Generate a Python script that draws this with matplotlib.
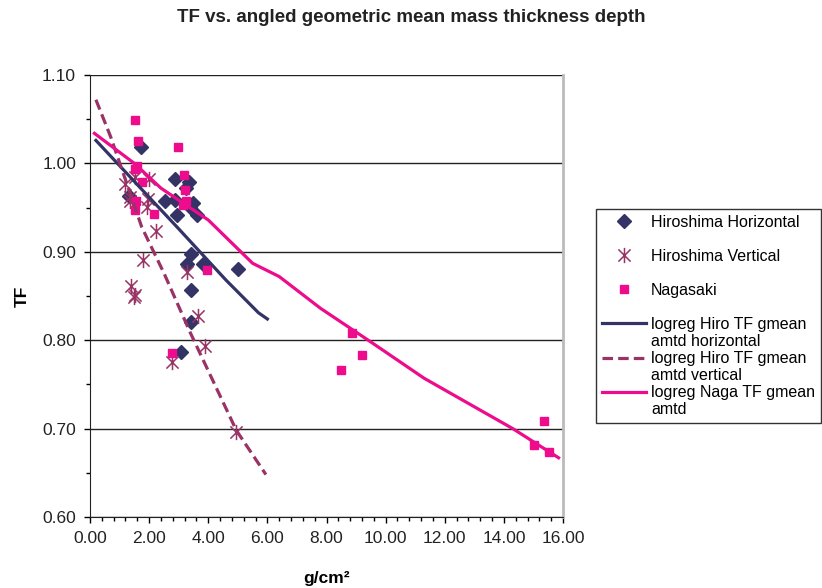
import matplotlib
matplotlib.use("Agg")
import matplotlib.pyplot as plt
from matplotlib.lines import Line2D
from matplotlib.path import Path
from matplotlib.ticker import MultipleLocator, FormatStrFormatter

plt.rcParams['font.family'] = ['Liberation Sans', 'DejaVu Sans']

# puntos
hiroHorizX = [1.71, 2.86, 3.34, 3.25, 1.33, 2.54, 2.86, 3.50, 3.38, 2.93, 3.61, 3.41, 3.27, 3.81, 5.01, 3.43, 3.43, 3.07]
hiroHorizY = [1.019, 0.982, 0.979, 0.972, 0.963, 0.957, 0.959, 0.955, 0.951, 0.942, 0.942, 0.898, 0.886, 0.886, 0.881,
              0.857, 0.821, 0.787]

hiroVertX = [1.18, 1.52, 2.00, 1.35, 1.35, 1.97, 1.92, 2.23, 1.80, 3.27, 1.38, 1.52, 1.50, 3.66, 3.89, 2.78, 4.93]
hiroVertY = [0.977, 0.985, 0.982, 0.962, 0.957, 0.960, 0.951, 0.924, 0.891, 0.877, 0.861, 0.851, 0.849, 0.827, 0.793,
             0.775, 0.696]

nagaX = [1.53, 1.61, 2.99, 1.52, 1.60, 3.18, 1.77, 3.22, 3.25, 3.16, 1.56, 1.52, 2.17, 3.95, 2.76, 8.87, 9.19, 8.48,
         15.37, 15.03, 15.54]
nagaY = [1.049, 1.025, 1.019, 0.994, 0.997, 0.987, 0.979, 0.970, 0.958, 0.953, 0.957, 0.947, 0.943, 0.879, 0.786,
         0.808, 0.783, 0.766, 0.709, 0.681, 0.673]

# curvas de regresion
regHiroHorizX = [0.2, 3.0, 4.6, 5.7, 6.0]
regHiroHorizY = [1.026, 0.926, 0.868, 0.831, 0.824]
regHiroVertX = [0.2, 0.7, 1.75, 2.5, 3.4, 4.95, 5.95]
regHiroVertY = [1.072, 1.030, 0.928, 0.876, 0.808, 0.698, 0.648]
regNagaX = [0.15, 1.5, 2.4, 4.0, 5.5, 6.4, 7.8, 9.5, 11.3, 14.3, 15.85]
regNagaY = [1.034, 1.000, 0.972, 0.936, 0.887, 0.872, 0.836, 0.798, 0.757, 0.700, 0.667]

NAVY = '#333366'
PLUM = '#993366'
PINK = '#EC0C8C'

asterisco = Path([(0, -1), (0, 1), (-0.8, -0.8), (0.8, 0.8), (-0.8, 0.8), (0.8, -0.8)],
                 [Path.MOVETO, Path.LINETO, Path.MOVETO, Path.LINETO, Path.MOVETO, Path.LINETO])

fig = plt.figure(figsize=(8.22, 5.88), dpi=100)
ax = fig.add_axes([90 / 822, 1 - 517 / 588, (563 - 90) / 822, (517 - 75) / 588])

hh, = ax.plot(hiroHorizX, hiroHorizY, linestyle='none', marker='D', markersize=7, color=NAVY)
hv, = ax.plot(hiroVertX, hiroVertY, linestyle='none', marker=asterisco, markersize=11, markeredgewidth=1.1,
              color=PLUM, fillstyle='none')
ng, = ax.plot(nagaX, nagaY, linestyle='none', marker='s', markersize=5.5, color=PINK)
l1, = ax.plot(regHiroHorizX, regHiroHorizY, color=NAVY, linewidth=2.3)
l2, = ax.plot(regHiroVertX, regHiroVertY, color=PLUM, linewidth=2.3, linestyle=(0, (3.3, 1.6)))
l3, = ax.plot(regNagaX, regNagaY, color=PINK, linewidth=2.3)

ax.set_xlim(0, 16)
ax.set_ylim(0.6, 1.1)
ax.xaxis.set_major_locator(MultipleLocator(2))
ax.xaxis.set_minor_locator(MultipleLocator(0.4))
ax.yaxis.set_major_locator(MultipleLocator(0.1))
ax.yaxis.set_minor_locator(MultipleLocator(0.05))
ax.xaxis.set_major_formatter(FormatStrFormatter('%.2f'))
ax.yaxis.set_major_formatter(FormatStrFormatter('%.2f'))
ax.tick_params(which='major', direction='out', length=4, width=1, labelsize=12.5, pad=6, colors='black')
ax.tick_params(which='minor', direction='out', length=3, width=1)
ax.tick_params(axis='x', labelcolor='#222222')
ax.tick_params(axis='y', labelcolor='#222222')

ax.yaxis.grid(True, color='#222222', linewidth=1)
gl = ax.get_ygridlines()
gl[0].set_visible(False)
gl[-1].set_visible(False)
ax.set_axisbelow(True)

ax.spines['top'].set_visible(False)
ax.spines['right'].set_color('#BBBBBB')
ax.spines['right'].set_linewidth(2)
ax.spines['left'].set_color('#222222')
ax.spines['bottom'].set_color('#222222')

ax.set_ylabel('TF', fontsize=12.5, fontweight='bold', labelpad=9)
ax.set_xlabel('g/cm²', fontsize=12.5, fontweight='bold', labelpad=18)
fig.suptitle('TF vs. angled geometric mean mass thickness depth', fontsize=13.5, fontweight='bold', y=1 - 9 / 588,
             va='top', color='#222222')

vacio = Line2D([], [], linestyle='none')
handles = [hh, vacio, hv, vacio, ng, vacio, l1, vacio, l2, vacio, l3, vacio]
labels = ['Hiroshima Horizontal', '', 'Hiroshima Vertical', '', 'Nagasaki', '',
          'logreg Hiro TF gmean', 'amtd horizontal', 'logreg Hiro TF gmean', 'amtd vertical',
          'logreg Naga TF gmean', 'amtd']
leg = fig.legend(handles, labels, loc='upper left', bbox_to_anchor=(596 / 822, 1 - 209 / 588),
                 fontsize=11.5, frameon=True, fancybox=False, edgecolor='#333333', framealpha=1,
                 labelspacing=0.13, handlelength=2.8, handletextpad=0.3, borderpad=0.35, borderaxespad=0)
leg.get_frame().set_linewidth(1)

fig.savefig('out.png', dpi=100)
